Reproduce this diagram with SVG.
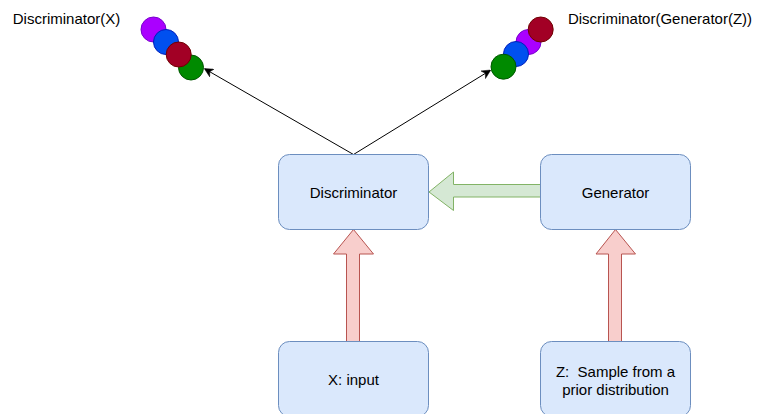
<svg xmlns="http://www.w3.org/2000/svg" width="759" height="414" viewBox="0 0 759 414">
<style>
.box{fill:#dae8fc;stroke:#6c8ebf;stroke-width:1}
.lbl{font-family:"Liberation Sans",Arial,sans-serif;font-size:15px;fill:#000;text-anchor:middle;white-space:pre}
.red{fill:#f8cecc;stroke:#b85450;stroke-width:1}
.grn{fill:#d5e8d4;stroke:#82b366;stroke-width:1}
.edge{fill:none;stroke:#000;stroke-width:1}
.cp{fill:#aa00ff;stroke:#7700cc}
.cb{fill:#0050ef;stroke:#001dbc}
.cr{fill:#a20025;stroke:#6f0000}
.cg{fill:#008a00;stroke:#005700}
</style>
<defs>
<marker id="ah" viewBox="0 0 10 10" refX="9" refY="5" markerWidth="9" markerHeight="9" orient="auto" markerUnits="userSpaceOnUse">
<path d="M0,0 L10,5 L0,10 L3,5 Z" fill="#000" stroke="#000" stroke-width="0.5"/>
</marker>
</defs>
<rect width="759" height="414" fill="#fff"/>
<g id="connectors">
<path class="edge" d="M353.5,154.5 L205,69" marker-end="url(#ah)"/>
<path class="edge" d="M353.5,154.5 L490,70.5" marker-end="url(#ah)"/>
<path class="red" d="M346.5,341.5 L346.5,254 L333.5,254 L353.5,229.5 L373.5,254 L359.5,254 L359.5,341.5 Z"/>
<path class="red" d="M608.5,341.5 L608.5,254 L596,254 L615.5,229.5 L635.5,254 L621.5,254 L621.5,341.5 Z"/>
<path class="grn" d="M540.5,184.5 L453.5,184.5 L453.5,172 L429,192 L453.5,210.5 L453.5,197 L540.5,197 Z"/>
</g>
<g id="label-dx"><text class="lbl" x="66.5" y="23.5">Discriminator(X)</text></g>
<g id="label-dgz"><text class="lbl" x="660" y="23.5">Discriminator(Generator(Z))</text></g>
<g id="balls-left">
<circle class="cp" cx="153.5" cy="29.5" r="12.5"/>
<circle class="cb" cx="166" cy="42" r="12.5"/>
<circle class="cg" cx="191" cy="67.5" r="12.5"/>
<circle class="cr" cx="178.7" cy="54.5" r="12.5"/>
</g>
<g id="balls-right">
<circle class="cp" cx="528.5" cy="42" r="12.5"/>
<circle class="cr" cx="540.7" cy="29.5" r="12.5"/>
<circle class="cb" cx="516" cy="54" r="12.5"/>
<circle class="cg" cx="503.5" cy="66.7" r="12.5"/>
</g>
<g id="discriminator">
<rect class="box" x="278.5" y="154.5" width="150" height="75" rx="11"/>
<text class="lbl" x="353.5" y="198">Discriminator</text>
</g>
<g id="generator">
<rect class="box" x="540.5" y="154.5" width="150" height="75" rx="11"/>
<text class="lbl" x="615.5" y="198">Generator</text>
</g>
<g id="x-input">
<rect class="box" x="278.5" y="341.5" width="150" height="75" rx="11"/>
<text class="lbl" x="353.5" y="385">X: input</text>
</g>
<g id="z-sample">
<rect class="box" x="540.5" y="341.5" width="150" height="75" rx="11"/>
<text class="lbl" x="615.5" y="377">Z:  Sample from a</text>
<text class="lbl" x="615.5" y="394.5">prior distribution</text>
</g>
</svg>
